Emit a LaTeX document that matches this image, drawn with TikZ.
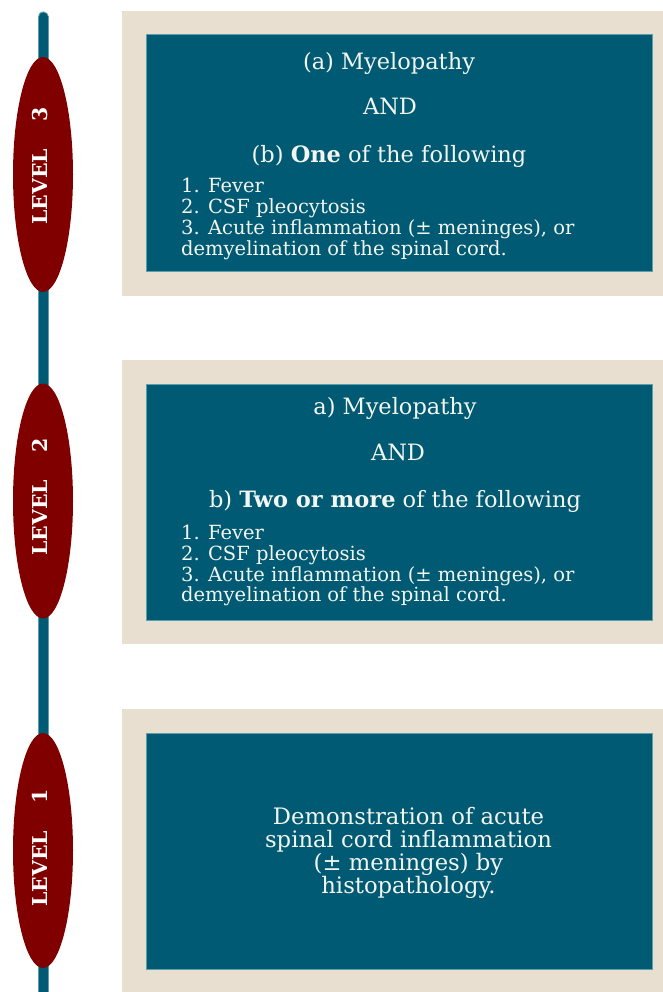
\documentclass[tikz,border=0pt]{standalone}
\usepackage{fontspec}
\setmainfont{DejaVu Serif}
\usetikzlibrary{shapes.geometric}
\definecolor{tealbox}{HTML}{005A73}
\definecolor{beige}{HTML}{E8DFD0}
\definecolor{dred}{HTML}{800000}
\definecolor{edgecol}{HTML}{5AA0AA}
\definecolor{txtcol}{HTML}{F3F6F0}
\begin{document}
\begin{tikzpicture}[x=1pt,y=-1pt,
  bgbox/.style={rectangle, fill=beige, inner sep=0pt, outer sep=0pt},
  tbox/.style={rectangle, fill=tealbox, draw=edgecol, line width=0.8pt, inner sep=0pt},
  lvlell/.style={ellipse, fill=dred, inner sep=0pt, minimum width=60pt, minimum height=235pt},
  lvltxt/.style={text=white, font=\bfseries\fontsize{20.5}{20.5}\selectfont, rotate=90, anchor=base, inner sep=0pt},
  head/.style={text=txtcol, font=\fontsize{22.5}{24}\selectfont, anchor=base, inner sep=0pt},
  item/.style={text=txtcol, font=\fontsize{19.5}{20}\selectfont, anchor=base west, inner sep=0pt},
  body/.style={text=txtcol, font=\fontsize{22.7}{23}\selectfont, anchor=base, inner sep=0pt}
]
\clip (0,0) rectangle (663,992);
\fill[white] (0,0) rectangle (663,992);

% background panels
\node[bgbox, minimum width=541pt, minimum height=285pt] (bg3) at (392.5,153.5) {};
\node[bgbox, minimum width=541pt, minimum height=284pt] (bg2) at (392.5,502) {};
\node[bgbox, minimum width=541pt, minimum height=291pt] (bg1) at (392.5,854.5) {};

% teal boxes
\node[tbox, minimum width=506pt, minimum height=237pt] (t3) at (399,152.5) {};
\node[tbox, minimum width=506pt, minimum height=236pt] (t2) at (399,502) {};
\node[tbox, minimum width=506pt, minimum height=236pt] (t1) at (399,851) {};

% timeline
\coordinate (ltop) at (43,17);
\coordinate (lbot) at (43,1005);
\draw[edgecol, line width=11pt, line cap=round] (ltop) -- (lbot);
\draw[tealbox, line width=9pt, line cap=round] (ltop) -- (lbot);

% level ellipses
\node[lvlell] (e3) at (43,174.5) {};
\node[lvlell] (e2) at (43,501) {};
\node[lvlell] (e1) at (43,850.5) {};
\node[lvltxt] (l3) at (47,166) {LEVEL\hspace{27pt}3};
\node[lvltxt] (l2) at (47,497) {LEVEL\hspace{27pt}2};
\node[lvltxt] (l1) at (47,848) {LEVEL\hspace{27pt}1};

% box 3
\node[head] (h3a) at (389,70) {(a) Myelopathy};
\node[head] (h3and) at (390,115) {AND};
\node[head] (h3b) at (389,163) {(b) \textbf{One} of the following};
\node[item] (i31) at (181,193) {1. Fever};
\node[item] (i32) at (181,213.7) {2. CSF pleocytosis};
\node[item] (i33) at (181,234.4) {3. Acute inflammation (± meninges), or};
\node[item] (i34) at (181,255) {demyelination of the spinal cord.};

% box 2
\node[head] (h2a) at (395,414) {a) Myelopathy};
\node[head] (h2and) at (398,460) {AND};
\node[head] (h2b) at (395,507) {b) \textbf{Two or more} of the following};
\node[item] (i21) at (181,539) {1. Fever};
\node[item] (i22) at (181,560) {2. CSF pleocytosis};
\node[item] (i23) at (181,581) {3. Acute inflammation (± meninges), or};
\node[item] (i24) at (181,601) {demyelination of the spinal cord.};

% box 1
\node[body] (b11) at (408.5,824) {Demonstration of acute};
\node[body] (b12) at (408.5,847) {spinal cord inflammation};
\node[body] (b13) at (408.5,870) {(± meninges) by};
\node[body] (b14) at (408.5,893) {histopathology.};
\end{tikzpicture}
\end{document}
